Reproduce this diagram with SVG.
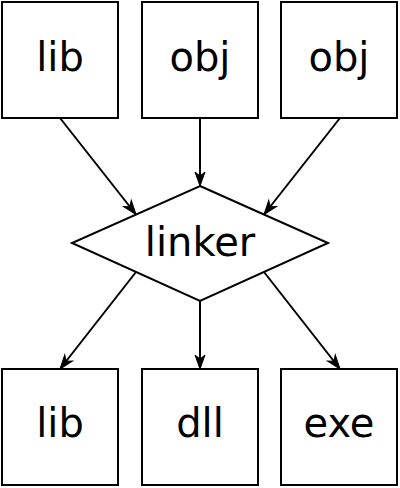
<svg xmlns="http://www.w3.org/2000/svg" width="400" height="488" viewBox="0 0 400 488">
<style>
.box{fill:#fff;stroke:#000;stroke-width:2}
.lbl{font-family:"DejaVu Sans",sans-serif;font-size:40px;text-anchor:middle;fill:#000}
.edge{stroke:#000;stroke-width:2;fill:none;marker-end:url(#arr)}
</style>
<defs>
<marker id="arr" markerUnits="userSpaceOnUse" markerWidth="20" markerHeight="20" refX="0" refY="0" viewBox="-16 -8 20 16" orient="auto">
<path d="M0,0 L-14,-5 L-10,0 L-14,5 Z" fill="#000" stroke="#000" stroke-width="1" stroke-linejoin="miter"/>
</marker>
</defs>
<rect width="400" height="488" fill="#fff"/>
<g id="connectors">
<line class="edge" x1="60" y1="118" x2="136" y2="214.5"/>
<line class="edge" x1="200" y1="118" x2="200" y2="186"/>
<line class="edge" x1="340" y1="118" x2="264" y2="214.5"/>
<line class="edge" x1="136" y1="272" x2="60" y2="369"/>
<line class="edge" x1="200" y1="301" x2="200" y2="369"/>
<line class="edge" x1="264" y1="272" x2="340" y2="369"/>
</g>
<g id="lib_in"><rect class="box" x="2" y="2" width="116" height="116"/><text class="lbl" x="60" y="71">lib</text></g>
<g id="obj1"><rect class="box" x="142" y="2" width="116" height="116"/><text class="lbl" x="200" y="71">obj</text></g>
<g id="obj2"><rect class="box" x="281" y="2" width="116" height="116"/><text class="lbl" x="339" y="71">obj</text></g>
<g id="linker"><polygon class="box" points="200,186 328,243 200,301 72,243"/><text class="lbl" x="200" y="256">linker</text></g>
<g id="lib_out"><rect class="box" x="2" y="369" width="116" height="116"/><text class="lbl" x="60" y="437">lib</text></g>
<g id="dll"><rect class="box" x="142" y="369" width="116" height="116"/><text class="lbl" x="200" y="437">dll</text></g>
<g id="exe"><rect class="box" x="281" y="369" width="116" height="116"/><text class="lbl" x="339" y="437">exe</text></g>
</svg>
